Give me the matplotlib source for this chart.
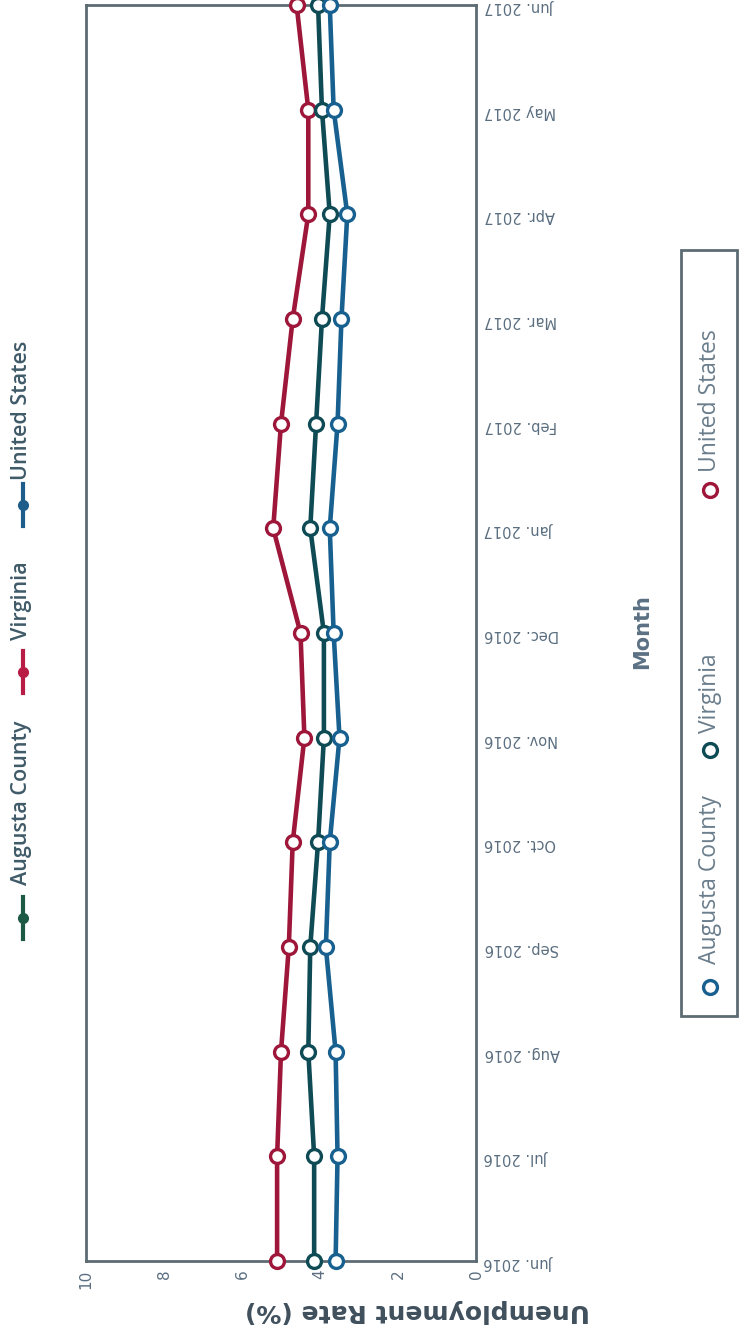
import matplotlib
matplotlib.use("Agg")
import matplotlib.pyplot as plt
from matplotlib.lines import Line2D
from matplotlib.patches import Rectangle

months = ["Jun. 2016", "Jul. 2016", "Aug. 2016", "Sep. 2016", "Oct. 2016",
          "Nov. 2016", "Dec. 2016", "Jan. 2017", "Feb. 2017", "Mar. 2017",
          "Apr. 2017", "May 2017", "Jun. 2017"]
united_states = [5.1, 5.1, 5.0, 4.8, 4.7, 4.4, 4.5, 5.2, 5.0, 4.7, 4.3, 4.3, 4.6]
virginia = [4.15, 4.15, 4.3, 4.25, 4.05, 3.9, 3.9, 4.25, 4.1, 3.95, 3.75, 3.95, 4.05]
augusta = [3.6, 3.55, 3.6, 3.85, 3.75, 3.5, 3.65, 3.75, 3.55, 3.45, 3.3, 3.65, 3.75]
rate_ticks = [0, 2, 4, 6, 8, 10]

W, H = 739, 1344
red = "#9e1639"
teal = "#0f4b55"
blue = "#17608f"
spine_col = "#5d6b73"
text_col = "#5a6e80"

fig = plt.figure(figsize=(W / 100, H / 100), dpi=100)
ax = fig.add_axes([86 / W, 1 - 1261 / H, 390 / W, 1256 / H])

pos = list(range(len(months)))
for vals, col in [(united_states, red), (virginia, teal), (augusta, blue)]:
    ax.plot(vals, pos, color=col, lw=3.3, marker="o", ms=10, mfc="white",
            mec=col, mew=2.4, clip_on=False, zorder=3)

ax.set_xlim(10, 0)
ax.set_ylim(0, len(months) - 1)
ax.yaxis.tick_right()
ax.set_yticks(pos)
ax.set_yticklabels(months, rotation=180, fontsize=10.5, color=text_col)
ax.set_xticks(rate_ticks)
ax.set_xticklabels([str(t) for t in rate_ticks], rotation=90, fontsize=11,
                   color=text_col)
ax.tick_params(axis="both", length=0, pad=6)
for s in ax.spines.values():
    s.set_color(spine_col)
    s.set_linewidth(2)

# axis titles (rotated like the reference)
fig.text(417 / W, 1 - 1311 / H, "Unemployment Rate (%)", rotation=180,
         ha="center", va="center", fontsize=18, fontweight="bold",
         color="#3f4f5c")
fig.text(642 / W, 1 - 632 / H, "Month", rotation=90, ha="center",
         va="center", fontsize=15, fontweight="bold", color="#5b7083")

# top legend (line + dot markers)
top_items = [("Augusta County", "#1d5a45", 918, 885),
             ("Virginia", "#b81c45", 672, 640),
             ("United States", "#1e5d8a", 505, 480)]
for label, col, my, ty in top_items:
    fig.add_artist(Line2D([23 / W, 23 / W], [1 - (my + 21) / H, 1 - (my - 21) / H],
                          transform=fig.transFigure, color=col, lw=3))
    fig.add_artist(Line2D([23 / W], [1 - my / H], transform=fig.transFigure,
                          color=col, marker="o", ms=7, lw=0))
    fig.text(22 / W, 1 - ty / H, label, rotation=90, ha="center", va="bottom",
             fontsize=15.5, fontweight="semibold", color="#3f5a68",
             family="Open Sans")

# bottom boxed legend (open circle markers)
fig.add_artist(Rectangle((681 / W, 1 - 1016 / H), 56 / W, 766 / H,
                         transform=fig.transFigure, fill=False,
                         edgecolor=spine_col, lw=2))
box_items = [("Augusta County", blue, 987, 964),
             ("Virginia", teal, 750, 733),
             ("United States", red, 490, 472)]
for label, col, my, ty in box_items:
    fig.add_artist(Line2D([710 / W], [1 - my / H], transform=fig.transFigure,
                          marker="o", ms=10, mfc="white", mec=col, mew=2.4, lw=0))
    fig.text(710 / W, 1 - ty / H, label, rotation=90, ha="center", va="bottom",
             fontsize=16.5, color="#6a7d8c", family="Open Sans")

fig.savefig("out.png", dpi=100)
